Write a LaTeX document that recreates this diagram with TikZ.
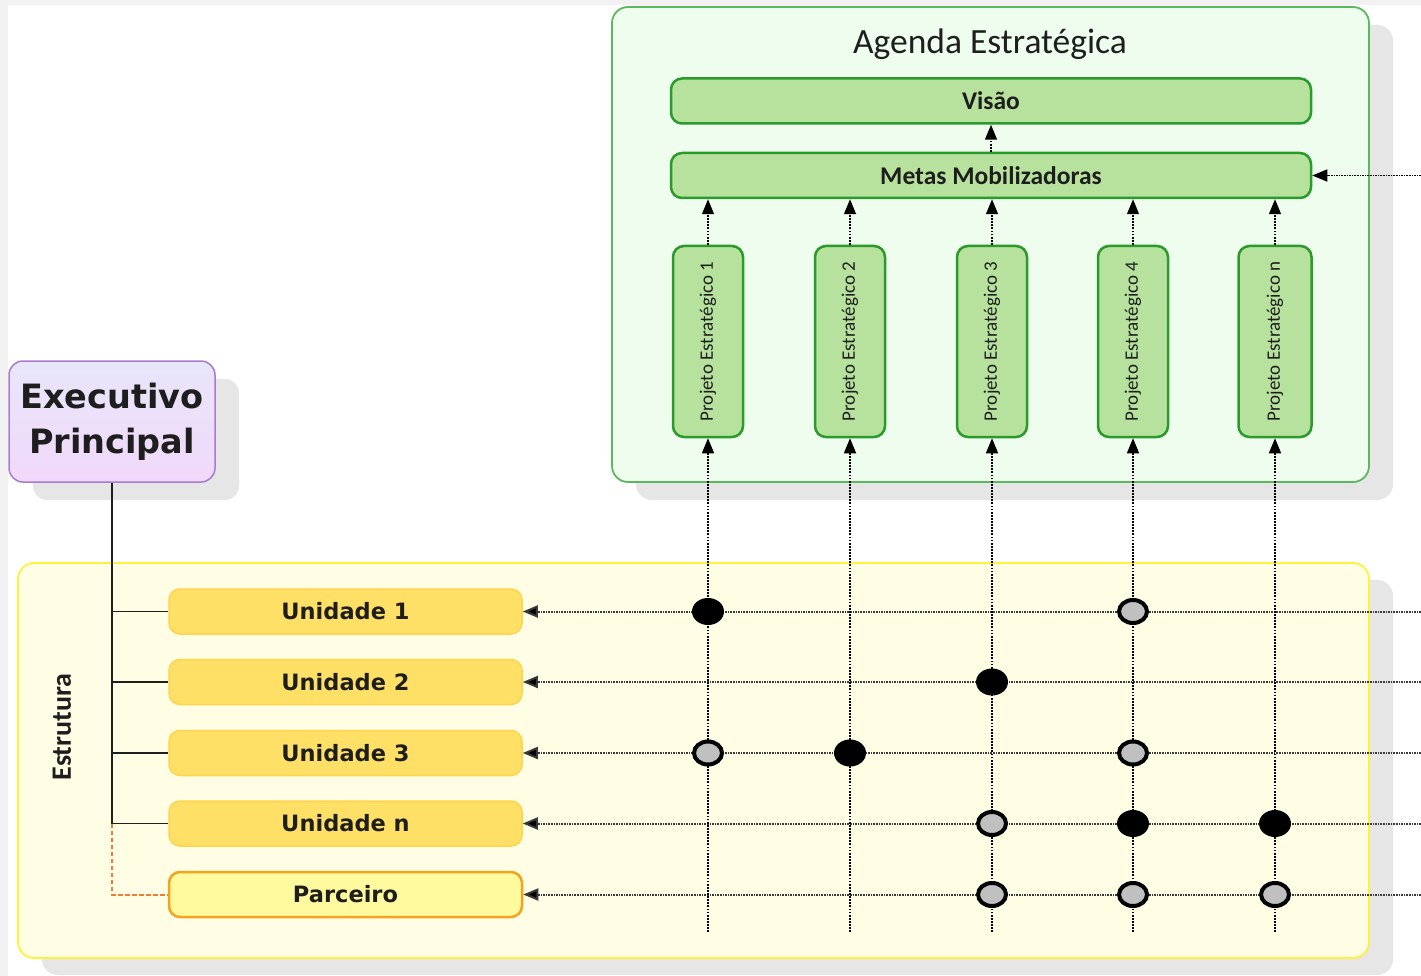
\documentclass[tikz,border=0pt]{standalone}
\usepackage{fontspec}
\setmainfont{Carlito}
\newfontfamily\verd{DejaVu Sans}
\usetikzlibrary{arrows.meta,shapes.geometric}

\definecolor{pagegray}{HTML}{F2F2F2}
\definecolor{shadowc}{HTML}{E6E6E6}
\definecolor{agfill}{HTML}{EFFDEF}
\definecolor{agborder}{HTML}{5CB85C}
\definecolor{gfill}{HTML}{B7E29D}
\definecolor{gborder}{HTML}{2A9A2A}
\definecolor{esfill}{HTML}{FFFDE3}
\definecolor{esborder}{HTML}{FFF23C}
\definecolor{ufill}{HTML}{FFE066}
\definecolor{uborder}{HTML}{FFD44A}
\definecolor{pfill}{HTML}{FFFA9E}
\definecolor{pborder}{HTML}{F5A31E}
\definecolor{dashorange}{HTML}{F57A35}
\definecolor{extop}{HTML}{E8E6FA}
\definecolor{exbot}{HTML}{F1D8FA}
\definecolor{exborder}{HTML}{A77BD0}
\definecolor{ink}{HTML}{1E1E1E}
\definecolor{dotgray}{HTML}{C0C0C0}
\definecolor{hline}{HTML}{3A3A3A}

\tikzset{
  panel/.style={inner sep=0pt, rounded corners=16pt},
  gbox/.style={draw=gborder, line width=2.5pt, fill=gfill, rounded corners=11pt,
    inner sep=0pt, text=ink},
  projbox/.style={gbox, minimum width=70pt, minimum height=191pt,
    font=\fontsize{19}{22}\selectfont},
  wide/.style={gbox, minimum width=640pt, minimum height=45pt,
    font=\bfseries\fontsize{25.5}{30}\selectfont},
  unit/.style={draw=uborder, fill=ufill, line width=1.5pt, rounded corners=11pt,
    inner sep=0pt, minimum width=353pt, minimum height=45pt, text=ink,
    font=\verd\bfseries\fontsize{22.5}{26}\selectfont},
  partner/.style={unit, draw=pborder, fill=pfill, line width=2.5pt},
  tip/.style={-{Triangle[length=15pt,width=12pt,fill=black]}},
  hlink/.style={tip, draw=hline, line width=2pt, dash pattern=on 1.6pt off 1pt},
  vlink/.style={tip, draw=black, line width=1.5pt, dash pattern=on 1.8pt off 1.3pt},
  main/.style={ellipse, fill=black, inner sep=0pt, minimum width=32pt, minimum height=27pt},
  side/.style={ellipse, fill=dotgray, draw=black, line width=4pt, inner sep=0pt,
    minimum width=28pt, minimum height=23pt},
}

\begin{document}
\begin{tikzpicture}[x=1pt,y=-1pt]
\useasboundingbox (0,0) rectangle (1421,976);
% page
\fill[pagegray] (0,0) rectangle (1421,976);
\fill[white] (8,5) rectangle (1421,976);

% drop shadows
\fill[shadowc, rounded corners=16pt] (636,25) rectangle (1393,500);
\fill[shadowc, rounded corners=16pt] (42,580) rectangle (1393,975);
\fill[shadowc, rounded corners=14pt] (33,379) rectangle (239,500);

% containers
\node[panel, draw=agborder, line width=1.8pt, fill=agfill,
  minimum width=757pt, minimum height=475pt] (agenda) at (990.5,244.5) {};
\node[panel, draw=esborder, line width=1.8pt, fill=esfill,
  minimum width=1351pt, minimum height=395pt] (estrut) at (693.5,760.5) {};

\node[text=ink, font=\fontsize{35.5}{40}\selectfont] (agtitle) at (990,44) {Agenda Estratégica};
\node[text=ink, font=\bfseries\fontsize{28}{32}\selectfont] (estitle) at (62,727)
  {\rotatebox{90}{Estrutura}};

% executive
\node[draw=exborder, line width=1.5pt, top color=extop, bottom color=exbot,
  rounded corners=14pt, inner sep=0pt, minimum width=206pt, minimum height=121pt,
  align=center, text=ink, font=\verd\bfseries\fontsize{33.5}{45}\selectfont]
  (exec) at (112,421.5) {Executivo\\Principal};

% strategic agenda
\node[wide] (visao) at (991,101) {Visão};
\node[wide] (metas) at (991,175.5) {Metas Mobilizadoras};

\node[projbox] (p1) at (708,341.5) {\rotatebox{90}{Projeto Estratégico 1}};
\node[projbox] (p2) at (850,341.5) {\rotatebox{90}{Projeto Estratégico 2}};
\node[projbox] (p3) at (992,341.5) {\rotatebox{90}{Projeto Estratégico 3}};
\node[projbox] (p4) at (1133,341.5) {\rotatebox{90}{Projeto Estratégico 4}};
\node[projbox, minimum width=73pt] (pn) at (1275,341.5) {\rotatebox{90}{Projeto Estratégico n}};

% structure
\node[unit] (u1) at (345.5,611.5) {Unidade 1};
\node[unit] (u2) at (345.5,682) {Unidade 2};
\node[unit] (u3) at (345.5,753) {Unidade 3};
\node[unit] (un) at (345.5,823.5) {Unidade n};
\node[partner] (parc) at (345.5,894.5) {Parceiro};

% free ends of the dotted links
\coordinate (rm) at (1421,175.5);
\coordinate (r1) at (1421,611.5);
\coordinate (r2) at (1421,682);
\coordinate (r3) at (1421,753);
\coordinate (rn) at (1421,823.5);
\coordinate (rp) at (1421,894.5);
\coordinate (b1) at (708,932);
\coordinate (b2) at (850,932);
\coordinate (b3) at (992,932);
\coordinate (b4) at (1133,932);
\coordinate (bn) at (1275,932);

% hierarchy
\begin{scope}[line width=1.5pt, draw=ink]
\draw (exec.south) |- (u1.west);
\draw (exec.south) |- (u2.west);
\draw (exec.south) |- (u3.west);
\draw (exec.south) |- (un.west);
\end{scope}
\draw[draw=dashorange, line width=2pt, dash pattern=on 4.5pt off 2.5pt]
  (exec.south |- un.west) |- (parc.west);

% agenda links
\draw[vlink] (metas.north) -- (visao.south);
\draw[vlink] (p1.north) -- (p1.north |- metas.south);
\draw[vlink] (p2.north) -- (p2.north |- metas.south);
\draw[vlink] (p3.north) -- (p3.north |- metas.south);
\draw[vlink] (p4.north) -- (p4.north |- metas.south);
\draw[vlink] (pn.north) -- (pn.north |- metas.south);
\draw[hlink, draw=black, line width=1.6pt] (rm) -- (metas.east);

% matrix links
\draw[hlink] (r1) -- (u1.east);
\draw[hlink] (r2) -- (u2.east);
\draw[hlink] (r3) -- (u3.east);
\draw[hlink] (rn) -- (un.east);
\draw[hlink] (rp) -- (parc.east);
\draw[vlink] (b1) -- (p1.south);
\draw[vlink] (b2) -- (p2.south);
\draw[vlink] (b3) -- (p3.south);
\draw[vlink] (b4) -- (p4.south);
\draw[vlink] (bn) -- (pn.south);

% responsibilities
\node[main] (m11) at (708,611.5) {};
\node[side] (s14) at (1133,611.5) {};
\node[main] (m23) at (992,682) {};
\node[side] (s31) at (708,753) {};
\node[main] (m32) at (850,753) {};
\node[side] (s34) at (1133,753) {};
\node[side] (sn3) at (992,823.5) {};
\node[main] (mn4) at (1133,823.5) {};
\node[main] (mnn) at (1275,823.5) {};
\node[side] (sp3) at (992,894.5) {};
\node[side] (sp4) at (1133,894.5) {};
\node[side] (spn) at (1275,894.5) {};
\end{tikzpicture}
\end{document}
